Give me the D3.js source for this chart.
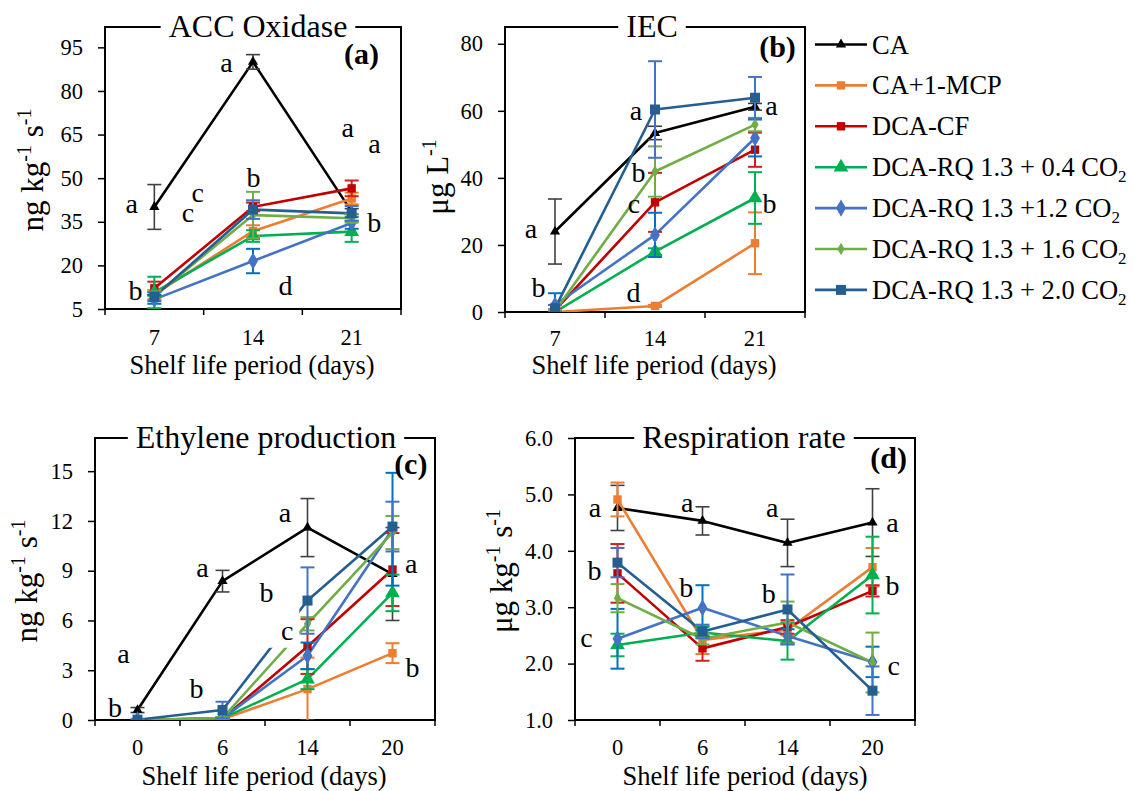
<!DOCTYPE html>
<html><head><meta charset="utf-8">
<script src="https://cdn.jsdelivr.net/npm/d3@7"></script>
<style>body{margin:0;background:#fff} svg{display:block} svg text{font-family:"Liberation Serif","Times New Roman",serif !important;}</style>
</head><body><svg id="c" width="1133" height="791"></svg>
<script>
// ---------------- DATA ----------------
const seriesNames = ["CA","CA+1-MCP","DCA-CF","DCA-RQ 1.3 + 0.4 CO2","DCA-RQ 1.3 +1.2 CO2","DCA-RQ 1.3 + 1.6 CO2","DCA-RQ 1.3 + 2.0 CO2"];
const daysAB = ["7","14","21"];
const daysCD = ["0","6","14","20"];
const accTicks = [5,20,35,50,65,80,95];
const iecTicks = [0,20,40,60,80];
const ethTicks = [0,3,6,9,12,15];
const respTicks = [1,2,3,4,5,6];

// (a) ACC Oxidase, ng kg-1 s-1
const accMean = [
  [40.1, 90.0, 38.5],
  [10.0, 31.8, 43.0],
  [12.1, 40.1, 46.5],
  [10.7, 30.1, 31.6],
  [8.3, 21.5, 34.6],
  [9.5, 37.3, 36.2],
  [9.2, 39.2, 37.9]
];
const accErr = [
  [7.7, 2.5, 1.0],
  [1.5, 2.0, 2.0],
  [2.3, 1.5, 2.7],
  [5.4, 2.0, 3.5],
  [1.5, 4.2, 2.0],
  [1.5, 8.0, 1.5],
  [1.5, 3.2, 2.5]
];
// (b) IEC, µg L-1
const iecMean = [
  [24.0, 53.4, 61.2],
  [0.0, 1.8, 20.5],
  [0.5, 32.7, 48.4],
  [0.0, 18.0, 34.0],
  [2.1, 23.0, 51.9],
  [0.3, 41.9, 55.9],
  [1.1, 60.4, 63.9]
];
const iecErr = [
  [9.7, 2.0, 1.0],
  [0.1, 0.3, 9.2],
  [0.3, 8.8, 5.1],
  [0.2, 1.0, 7.7],
  [3.5, 6.6, 5.5],
  [0.3, 7.5, 2.0],
  [1.0, 14.4, 6.2]
];
// (c) Ethylene production, ng kg-1 s-1
const ethMean = [
  [0.6, 8.37, 11.6, 8.8],
  [0.0, 0.05, 1.86, 4.03],
  [0.0, 0.08, 4.43, 9.07],
  [0.0, 0.1, 2.46, 7.66],
  [0.0, 0.1, 3.87, 11.5],
  [0.0, 0.12, 5.8, 11.3],
  [0.02, 0.6, 7.2, 11.66]
];
const ethErr = [
  [0.15, 0.65, 1.75, 2.8],
  [0.0, 0.05, 1.9, 0.6],
  [0.0, 0.05, 1.65, 2.2],
  [0.0, 0.05, 0.6, 1.1],
  [0.0, 0.05, 0.8, 3.4],
  [0.0, 0.05, 0.4, 1.0],
  [0.05, 0.5, 2.0, 1.5]
];
// (d) Respiration rate, µg kg-1 s-1
const respMean = [
  [4.76, 4.53, 4.14, 4.5],
  [4.91, 2.42, 2.6, 3.71],
  [3.6, 2.27, 2.65, 3.29],
  [2.33, 2.55, 2.4, 3.57],
  [2.44, 2.99, 2.49, 2.03],
  [3.16, 2.44, 2.73, 2.02],
  [3.79, 2.57, 2.96, 1.52]
];
const respErr = [
  [0.4, 0.25, 0.42, 0.6],
  [0.3, 0.25, 0.1, 0.34],
  [0.52, 0.22, 0.12, 0.1],
  [0.2, 0.1, 0.33, 0.68],
  [0.53, 0.4, 0.12, 0.27],
  [0.25, 0.1, 0.37, 0.53],
  [0.26, 0.12, 0.62, 0.43]
];
// significance letters: [text, category position (0 = first category), value]
const accLetters = [["a",-0.23,38.0],["c",0.34,34.9],["c",0.44,41.8],["b",-0.19,8.1],["a",0.73,86.4],["b",1.005,46.9],["d",1.33,9.8],["a",1.96,64.1],["a",2.23,58.6],["b",2.23,31.5]];
const iecLetters = [["a",-0.24,22.1],["b",-0.165,4.5],["a",0.81,57.4],["b",0.835,38.9],["c",0.79,29.6],["d",0.785,3.0],["a",2.165,58.9],["b",2.145,29.6]];
const ethLetters = [["a",-0.165,3.45],["b",-0.265,0.18],["a",0.765,8.65],["b",0.694,1.33],["a",1.735,11.92],["b",1.517,7.14,1],["c",1.76,4.84,1],["a",3.22,8.89],["b",3.235,2.6]];
const respLetters = [["a",-0.265,4.6],["b",-0.27,3.48],["c",-0.365,2.29],["a",0.82,4.69],["b",0.81,3.18],["a",1.82,4.6],["b",1.78,3.07],["a",3.235,4.33],["b",3.235,3.22],["c",3.25,1.8]];
const panelTags = [["(a)",2.1,89.2],["(b)",2.225,76.2],["(c)",3.215,14.8],["(d)",3.19,5.47]];

// ---------------- STYLE ----------------
const FONT = '"Liberation Serif","Times New Roman",serif';
const colors = ["#000000","#ED7D31","#C00000","#00B050","#4472C4","#70AD47","#255E91"];
const errColors = ["#404040","#ED7D31","#D02020","#00B050","#0070C0","#70AD47","#4472C4"];
const symTypes = [d3.symbolTriangle,d3.symbolSquare,d3.symbolSquare,d3.symbolTriangle,d3.symbolDiamond,d3.symbolDiamond,d3.symbolSquare];
const symSizes = [45,70,70,95,85,45,100];

const svg = d3.select("#c");

const panels = [
  {cats:daysAB, means:accMean, errs:accErr, ticks:accTicks, dom:[5,102], fmt:d3.format("d"),
   x0:105, x1:401, yt:27, yb:309, title:"ACC Oxidase", tx:258, tpad:20,
   ytitle:[["ng kg",0],["-1",1],[" s",0],["-1",1]], ytx:43, yty:170, letters:accLetters, tag:panelTags[0],
   xtitleX:252, xtitleY:374},
  {cats:daysAB, means:iecMean, errs:iecErr, ticks:iecTicks, dom:[0,85], fmt:d3.format("d"),
   x0:505, x1:805, yt:27, yb:312, title:"IEC", tx:652, tpad:18,
   ytitle:[["\u03bcg L",0],["-1",1]], ytx:448, yty:177, letters:iecLetters, tag:panelTags[1],
   xtitleX:654, xtitleY:374},
  {cats:daysCD, means:ethMean, errs:ethErr, ticks:ethTicks, dom:[0,17], fmt:d3.format("d"),
   x0:95, x1:435, yt:438, yb:720, title:"Ethylene production", tx:266, tpad:19,
   ytitle:[["ng kg",0],["-1",1],[" s",0],["-1",1]], ytx:37, yty:581, letters:ethLetters, tag:panelTags[2],
   xtitleX:264, xtitleY:785},
  {cats:daysCD, means:respMean, errs:respErr, ticks:respTicks, dom:[1,6], fmt:d3.format(".1f"),
   x0:575, x1:915, yt:438, yb:720, title:"Respiration rate", tx:744, tpad:19,
   ytitle:[["\u03bcg kg",0],["-1",1],[" s",0],["-1",1]], ytx:512, yty:571, letters:respLetters, tag:panelTags[3],
   xtitleX:745, xtitleY:785}
];

function drawPanel(p, pi) {
  const g = svg.append("g").style("font-family", FONT);
  const x = d3.scaleBand().domain(p.cats).range([p.x0, p.x1]);
  const y = d3.scaleLinear().domain(p.dom).range([p.yb, p.yt]);
  const cx = c => x(c) + x.bandwidth() / 2;
  const posX = off => cx(p.cats[0]) + off * x.step();

  const clipId = "clip" + pi;
  svg.append("clipPath").attr("id", clipId).append("rect")
    .attr("x", p.x0 - 20).attr("y", p.yt).attr("width", p.x1 - p.x0 + 40).attr("height", p.yb - p.yt);

  // y axis
  const ya = g.append("g").attr("transform", `translate(${p.x0},0)`)
    .call(d3.axisLeft(y).tickValues(p.ticks).tickSize(7).tickPadding(15).tickFormat(p.fmt));
  ya.attr("font-family", null).attr("font-size", null);
  ya.select(".domain").remove();
  ya.selectAll("line").attr("stroke", "#000").attr("stroke-width", 1.5);
  ya.selectAll("text").attr("font-size", 22.5).attr("fill", "#000");

  // x axis labels
  const xa = g.append("g").attr("transform", `translate(0,${p.yb})`)
    .call(d3.axisBottom(x).tickSize(0).tickPadding(p.tpad));
  xa.attr("font-family", null).attr("font-size", null);
  xa.select(".domain").remove();
  xa.selectAll("text").attr("font-size", 22.5).attr("fill", "#000");
  // boundary tick marks
  const bounds = p.cats.map(c => x(c)).concat([x.range()[1]]);
  g.selectAll(null).data(bounds).join("line")
    .attr("x1", d => d).attr("x2", d => d).attr("y1", p.yb).attr("y2", p.yb + 6)
    .attr("stroke", "#000").attr("stroke-width", 1.5);

  // frame
  g.append("rect").attr("x", p.x0).attr("y", p.yt).attr("width", p.x1 - p.x0).attr("height", p.yb - p.yt)
    .attr("fill", "none").attr("stroke", "#000").attr("stroke-width", 2);

  // axis titles
  g.append("text").attr("x", p.xtitleX).attr("y", p.xtitleY).attr("text-anchor", "middle")
    .attr("font-size", 26.5).text("Shelf life period (days)");
  const yt = g.append("text").attr("transform", `translate(${p.ytx},${p.yty}) rotate(-90)`)
    .attr("text-anchor", "middle").attr("font-size", 31);
  p.ytitle.forEach(([t, sup], k) => {
    const ts = yt.append("tspan").text(t);
    if (sup) ts.attr("font-size", 20).attr("dy", -12);
    else if (k > 0) ts.attr("dy", 12);
  });

  // data
  const plot = g.append("g").attr("clip-path", `url(#${clipId})`);
  const line = d3.line().x((d, i) => cx(p.cats[i])).y(d => y(d));
  p.means.forEach((m, s) => {
    plot.append("path").attr("d", line(m)).attr("fill", "none").attr("stroke", colors[s])
      .attr("stroke-width", 2.6).attr("stroke-linejoin", "round");
  });

  // white boxes behind flagged letters (hide lines)
  const boxed = p.letters.filter(l => l[3]);
  if (boxed.length) {
    const tmp = boxed.map(l => g.append("text").attr("x", posX(l[1])).attr("y", y(l[2]))
      .attr("text-anchor", "middle").attr("font-size", 28).text(l[0]));
    const bbs = tmp.map(t => t.node().getBBox());
    tmp.forEach(t => t.remove());
    const bx0 = d3.min(bbs, b => b.x) - 6, bx1 = d3.max(bbs, b => b.x + b.width) + 6;
    const by0 = d3.min(bbs, b => b.y) - 2, by1 = d3.max(bbs, b => b.y + b.height) + 2;
    plot.append("rect").attr("x", bx0).attr("y", by0).attr("width", bx1 - bx0).attr("height", by1 - by0).attr("fill", "#fff");
  }

  p.means.forEach((m, s) => {
    const eg = plot.append("g").attr("stroke", errColors[s]).attr("stroke-width", s === 0 ? 1.6 : 2);
    m.forEach((v, i) => {
      const e = p.errs[s][i];
      if (e <= 0) return;
      const xc = cx(p.cats[i]);
      const yl = y(v - e), yh = y(v + e);
      eg.append("line").attr("x1", xc).attr("x2", xc).attr("y1", yl).attr("y2", yh);
      eg.append("line").attr("x1", xc - 7).attr("x2", xc + 7).attr("y1", yh).attr("y2", yh);
      eg.append("line").attr("x1", xc - 7).attr("x2", xc + 7).attr("y1", yl).attr("y2", yl);
    });
    plot.selectAll(null).data(m).join("path")
      .attr("transform", (d, i) => `translate(${cx(p.cats[i])},${y(d)})`)
      .attr("d", d3.symbol().type(symTypes[s]).size(symSizes[s])())
      .attr("fill", colors[s]);
  });

  // letters
  p.letters.forEach(l => {
    g.append("text").attr("x", posX(l[1])).attr("y", y(l[2])).attr("text-anchor", "middle")
      .attr("font-size", 28).text(l[0]);
  });
  // tag
  g.append("text").attr("x", posX(p.tag[1])).attr("y", y(p.tag[2])).attr("text-anchor", "middle")
    .attr("font-size", 30).attr("font-weight", "bold").text(p.tag[0]);

  // title with white background
  const tt = g.append("text").attr("x", p.tx).attr("y", p.yt + 10).attr("text-anchor", "middle")
    .attr("font-size", 32).text(p.title);
  const bb = tt.node().getBBox();
  g.insert("rect", function(){ return tt.node(); }).attr("x", bb.x - 8).attr("y", bb.y)
    .attr("width", bb.width + 16).attr("height", bb.height).attr("fill", "#fff");
}

panels.forEach(drawPanel);

// legend
const lg = svg.append("g").style("font-family", FONT);
seriesNames.forEach((n, s) => {
  const yc = 44.5 + s * 40.9;
  lg.append("line").attr("x1", 815).attr("x2", 867).attr("y1", yc).attr("y2", yc)
    .attr("stroke", colors[s]).attr("stroke-width", 2.6);
  lg.append("path").attr("transform", `translate(841,${yc})`)
    .attr("d", d3.symbol().type(symTypes[s]).size(symSizes[s])()).attr("fill", colors[s]);
  const t = lg.append("text").attr("x", 872).attr("y", yc + 9).attr("font-size", 26.5);
  if (n.endsWith("CO2")) {
    t.append("tspan").text(n.slice(0, -1));
    t.append("tspan").text("2").attr("font-size", 17).attr("dy", 6);
  } else t.text(n);
});
</script></body></html>
